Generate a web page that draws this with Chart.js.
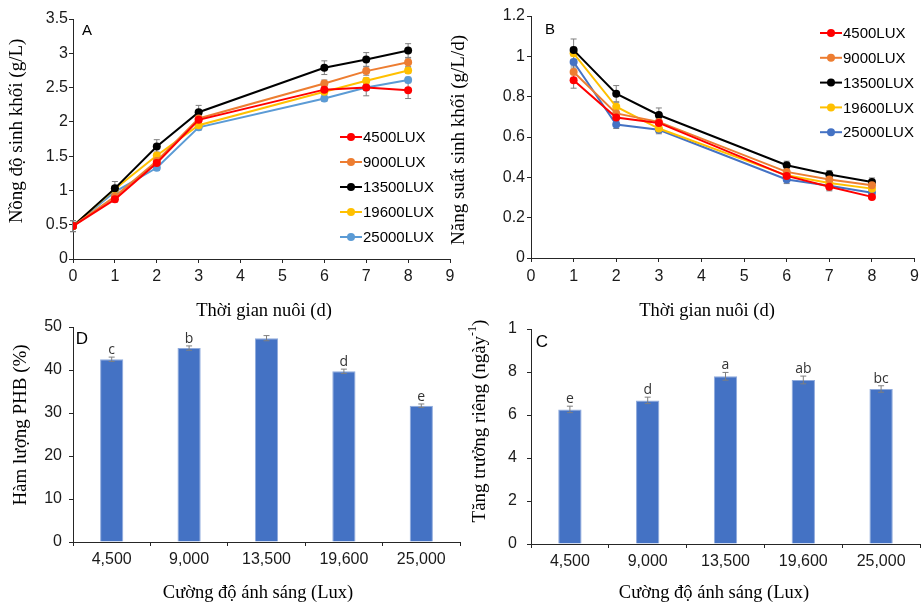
<!DOCTYPE html>
<html>
<head>
<meta charset="utf-8">
<script src="https://cdn.jsdelivr.net/npm/chart.js@4.4.1/dist/chart.umd.min.js"></script>
<style>
  body { margin: 0; background: #fff; }
  canvas { position: absolute; }
</style>
</head>
<body>
<canvas id="chartA" width="462" height="325" style="left:0;top:0"></canvas>
<canvas id="chartB" width="484" height="325" style="left:440px;top:0"></canvas>
<canvas id="chartD" width="462" height="307" style="left:0;top:295px"></canvas>
<canvas id="chartC" width="484" height="307" style="left:440px;top:295px"></canvas>
<script>
// series names + colours
var luxNames = ['4500LUX', '9000LUX', '13500LUX', '19600LUX', '25000LUX'];
var colorsA = ['#FF0000', '#ED7D31', '#000000', '#FFC000', '#5B9BD5'];
var colorsB = ['#FF0000', '#ED7D31', '#000000', '#FFC000', '#4472C4'];

// A - biomass concentration (g/L)
var daysA = [0, 1, 2, 3, 6, 7, 8];
var biomass4500 = [0.48, 0.87, 1.40, 2.03, 2.47, 2.50, 2.46];
var biomass9000 = [0.48, 0.91, 1.43, 2.05, 2.56, 2.74, 2.87];
var biomass13500 = [0.48, 1.03, 1.64, 2.14, 2.79, 2.91, 3.04];
var biomass19600 = [0.48, 1.02, 1.51, 1.95, 2.44, 2.60, 2.75];
var biomass25000 = [0.48, 0.98, 1.33, 1.92, 2.34, 2.50, 2.61];
var biomassErr = [
    [0.08, 0.04, 0.05, 0.05, 0.05, 0.12, 0.12],
    [0.08, 0.05, 0.05, 0.05, 0.05, 0.06, 0.06],
    [0.08, 0.10, 0.10, 0.10, 0.10, 0.10, 0.10],
    [0.08, 0.05, 0.05, 0.04, 0.04, 0.04, 0.04],
    [0.08, 0.04, 0.04, 0.04, 0.04, 0.04, 0.04]
];

// B - biomass productivity (g/L/d)
var daysB = [1, 2, 3, 6, 7, 8];
var prod4500 = [0.882, 0.697, 0.670, 0.407, 0.353, 0.303];
var prod9000 = [0.922, 0.717, 0.675, 0.427, 0.389, 0.361];
var prod13500 = [1.031, 0.815, 0.709, 0.460, 0.414, 0.377];
var prod19600 = [1.015, 0.750, 0.642, 0.410, 0.372, 0.344];
var prod25000 = [0.972, 0.662, 0.636, 0.389, 0.358, 0.324];
var prodErr = [
    [0.04, 0.02, 0.02, 0.02, 0.02, 0.01],
    [0.03, 0.02, 0.02, 0.02, 0.02, 0.02],
    [0.055, 0.04, 0.035, 0.02, 0.02, 0.02],
    [0.03, 0.02, 0.02, 0.02, 0.02, 0.02],
    [0.03, 0.02, 0.02, 0.02, 0.02, 0.02]
];

// D / C - bar panels
var luxLabels = ['4,500', '9,000', '13,500', '19,600', '25,000'];
var phbContent = [42.5, 45.1, 47.4, 39.7, 31.7];
var phbErr = [0.5, 0.5, 0.6, 0.5, 0.4];
var phbSig = ['c', 'b', '', 'd', 'e'];
var growthRate = [0.626, 0.668, 0.780, 0.763, 0.721];
var growthErr = [0.015, 0.015, 0.018, 0.018, 0.015];
var growthSig = ['e', 'd', 'a', 'ab', 'bc'];
var growthTicks = ['0', '2', '4', '6', '8', '1'];

var SANS = '"Liberation Sans", Arial, sans-serif';
var SERIF = '"Liberation Serif", "Times New Roman", serif';
var AXIS = '#262626';

// error bars (and significance letters for bars)
var errorBars = {
    id: 'errorBars',
    beforeDatasetsDraw: function (chart) { if (chart.config.type === 'line') drawErr(chart); },
    afterDatasetsDraw: function (chart) { if (chart.config.type === 'bar') drawErr(chart); }
};

function drawErr(chart) {
    var ctx = chart.ctx;
    var ys = chart.scales.y;
    chart.data.datasets.forEach(function (ds, i) {
        if (!ds.err) return;
        var meta = chart.getDatasetMeta(i);
        meta.data.forEach(function (el, j) {
            var v = ds.data[j];
            var val = (typeof v === 'object') ? v.y : v;
            var top = ys.getPixelForValue(val + ds.err[j]);
            var bot = ys.getPixelForValue(val - ds.err[j]);
            var cap = 3;
            ctx.save();
            ctx.strokeStyle = '#7F7F7F';
            ctx.lineWidth = 1;
            ctx.beginPath();
            ctx.moveTo(el.x, top); ctx.lineTo(el.x, bot);
            ctx.moveTo(el.x - cap, top); ctx.lineTo(el.x + cap, top);
            ctx.moveTo(el.x - cap, bot); ctx.lineTo(el.x + cap, bot);
            ctx.stroke();
            if (ds.sig && ds.sig[j]) {
                ctx.fillStyle = '#333';
                ctx.font = '14px "Open Sans", ' + SANS;
                ctx.textAlign = 'center';
                ctx.textBaseline = 'alphabetic';
                ctx.fillText(ds.sig[j], el.x, top - 3);
            }
            ctx.restore();
        });
    });
}

// free text: panel letters, axis titles
function textPlugin(items) {
    return {
        id: 'textItems',
        afterDraw: function (chart) {
            var ctx = chart.ctx;
            items.forEach(function (it) {
                var parts = it.parts || [{ t: it.text }];
                ctx.save();
                ctx.translate(it.x, it.y);
                if (it.rot) ctx.rotate(it.rot);
                ctx.fillStyle = '#000';
                ctx.textBaseline = 'middle';
                ctx.textAlign = 'left';
                var widths = [], total = 0;
                parts.forEach(function (p) {
                    ctx.font = p.sup ? it.supFont : it.font;
                    var w = ctx.measureText(p.t).width;
                    widths.push(w); total += w;
                });
                var x = -total / 2;
                parts.forEach(function (p, k) {
                    ctx.font = p.sup ? it.supFont : it.font;
                    ctx.fillText(p.t, x, p.sup ? -7 : 0);
                    x += widths[k];
                });
                ctx.restore();
            });
        }
    };
}

// in-plot legend for line panels
function legendPlugin(x, y, rowH) {
    return {
        id: 'lineLegend',
        afterDraw: function (chart) {
            var ctx = chart.ctx;
            chart.data.datasets.forEach(function (ds, i) {
                var yy = y + i * rowH;
                ctx.save();
                ctx.strokeStyle = ds.borderColor;
                ctx.fillStyle = ds.borderColor;
                ctx.lineWidth = 2;
                ctx.beginPath();
                ctx.moveTo(x, yy); ctx.lineTo(x + 22, yy);
                ctx.stroke();
                ctx.beginPath();
                ctx.arc(x + 11, yy, 4, 0, Math.PI * 2);
                ctx.fill();
                ctx.fillStyle = '#000';
                ctx.font = '15px ' + SANS;
                ctx.textBaseline = 'middle';
                ctx.fillText(ds.label, x + 23, yy + 1);
                ctx.restore();
            });
        }
    };
}

function lineSets(xs, series, errs, colors) {
    return series.map(function (s, i) {
        return {
            label: luxNames[i],
            data: s.map(function (v, j) { return { x: xs[j], y: v }; }),
            err: errs[i],
            borderColor: colors[i],
            backgroundColor: colors[i],
            borderWidth: 2,
            pointRadius: 4,
            pointBorderWidth: 0,
            tension: 0
        };
    });
}

// plain number labels: 3 not 3.0
function plainNum(v) {
    return String(Math.round(v * 100) / 100);
}

function axisOpts(o) {
    return {
        type: o.type,
        min: o.min,
        max: o.max,
        afterFit: o.fit,
        border: { display: true, color: AXIS, width: 1 },
        grid: { drawOnChartArea: false, drawTicks: true, tickLength: 4, color: AXIS },
        ticks: Object.assign({ color: '#1a1a1a', font: { family: SANS, size: 16 }, padding: o.pad, maxRotation: 0, autoSkip: false }, o.ticks || {})
    };
}

function lineChart(id, datasets, geo, yTicks, plugins) {
    return new Chart(document.getElementById(id), {
        type: 'line',
        data: { datasets: datasets },
        options: {
            responsive: false,
            animation: false,
            layout: { padding: geo.padding },
            plugins: { legend: { display: false }, tooltip: { enabled: false } },
            scales: {
                x: axisOpts({ type: 'linear', min: 0, max: 9, pad: geo.xPad, ticks: { stepSize: 1, callback: plainNum },
                    fit: function (s) { s.height = geo.xHeight; } }),
                y: axisOpts({ type: 'linear', min: yTicks.min, max: yTicks.max, pad: geo.yPad, ticks: { stepSize: yTicks.step, callback: plainNum },
                    fit: function (s) { s.width = geo.yWidth; } })
            }
        },
        plugins: plugins
    });
}

function barChart(id, values, errs, sig, geo, yTicks, plugins) {
    return new Chart(document.getElementById(id), {
        type: 'bar',
        data: {
            labels: luxLabels,
            datasets: [{
                data: values,
                err: errs,
                sig: sig,
                backgroundColor: '#4472C4',
                borderColor: '#8FAADC',
                borderWidth: 1,
                borderSkipped: 'bottom',
                barPercentage: 0.3,
                categoryPercentage: 1
            }]
        },
        options: {
            responsive: false,
            animation: false,
            layout: { padding: geo.padding },
            plugins: { legend: { display: false }, tooltip: { enabled: false } },
            scales: {
                x: axisOpts({ type: 'category', pad: geo.xPad,
                    fit: function (s) { s.height = geo.xHeight; } }),
                y: axisOpts({ type: 'linear', min: yTicks.min, max: yTicks.max, pad: geo.yPad,
                    ticks: Object.assign({ stepSize: yTicks.step, callback: plainNum }, yTicks.extra || {}),
                    fit: function (s) { s.width = geo.yWidth; } })
            }
        },
        plugins: plugins
    });
}

var titleFont = '18.5px ' + SERIF;
var yTitleFont = '19px ' + SERIF;

// A
lineChart('chartA',
    lineSets(daysA, [biomass4500, biomass9000, biomass13500, biomass19600, biomass25000], biomassErr, colorsA),
    { padding: { left: 0, top: 19, right: 12, bottom: 0 }, xHeight: 66, yWidth: 73, xPad: 4, yPad: 1 },
    { min: 0, max: 3.5, step: 0.5 },
    [errorBars, legendPlugin(340, 137, 25), textPlugin([
        { text: 'A', x: 87, y: 31, font: '15px ' + SANS },
        { text: 'Nồng độ sinh khối (g/L)', x: 17, y: 131, rot: -Math.PI / 2, font: yTitleFont },
        { text: 'Thời gian nuôi (d)', x: 264, y: 311, font: titleFont }
    ])]);

// B
lineChart('chartB',
    lineSets(daysB, [prod4500, prod9000, prod13500, prod19600, prod25000], prodErr, colorsB),
    { padding: { left: 0, top: 16, right: 7, bottom: 0 }, xHeight: 67, yWidth: 91, xPad: 5, yPad: 2 },
    { min: 0, max: 1.2, step: 0.2 },
    [errorBars, legendPlugin(380, 33, 24.8), textPlugin([
        { text: 'B', x: 110, y: 30, font: '15px ' + SANS },
        { text: 'Năng suất sinh khối (g/L/d)', x: 19, y: 140, rot: -Math.PI / 2, font: yTitleFont },
        { text: 'Thời gian nuôi (d)', x: 267, y: 311, font: titleFont }
    ])]);

// D
barChart('chartD', phbContent, phbErr, phbSig,
    { padding: { left: 0, top: 32, right: 2, bottom: 0 }, xHeight: 60, yWidth: 73, xPad: 4, yPad: 7 },
    { min: 0, max: 50, step: 10 },
    [errorBars, textPlugin([
        { text: 'D', x: 82, y: 44, font: '17px ' + SANS },
        { text: 'Hàm lượng PHB (%)', x: 21, y: 130, rot: -Math.PI / 2, font: yTitleFont },
        { text: 'Cường độ ánh sáng (Lux)', x: 258, y: 298, font: titleFont }
    ])]);

// C
barChart('chartC', growthRate, growthErr, growthSig,
    { padding: { left: 0, top: 34, right: 4, bottom: 0 }, xHeight: 58, yWidth: 91, xPad: 4, yPad: 10 },
    { min: 0, max: 1, step: 0.2, extra: { callback: function (v, i) { return growthTicks[i]; } } },
    [errorBars, textPlugin([
        { text: 'C', x: 102, y: 47, font: '17px ' + SANS },
        { parts: [{ t: 'Tăng trưởng riêng (ngày' }, { t: '-1', sup: true }, { t: ')' }],
          x: 40, y: 126, rot: -Math.PI / 2, font: yTitleFont, supFont: '12px ' + SERIF },
        { text: 'Cường độ ánh sáng (Lux)', x: 274, y: 298, font: titleFont }
    ])]);
</script>
</body>
</html>
